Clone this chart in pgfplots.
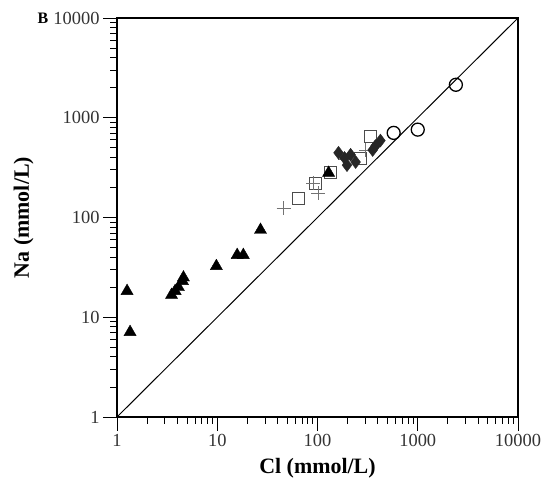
\documentclass[border=0pt]{standalone}
\usepackage{fontspec}
\setmainfont{Liberation Serif}
\usepackage{pgfplots}
\pgfplotsset{compat=1.18}
\begin{document}
\begin{tikzpicture}[x=1bp,y=1bp]
\path (0,0) rectangle (547,490);
\node[font=\fontsize{16}{19}\selectfont\bfseries] at (43,472) {B};
\begin{axis}[
  at={(117bp,73bp)}, anchor=south west,
  scale only axis, width=401bp, height=399bp,
  xmode=log, ymode=log,
  xmin=1, xmax=10000, ymin=1, ymax=10000,
  log basis x=10, log basis y=10,
  xtick={1,10,100,1000,10000}, ytick={1,10,100,1000,10000},
  xticklabels={1,10,100,1000,10000}, yticklabels={1,10,100,1000,10000},
  minor xtick={2,3,4,5,6,7,8,9,20,30,40,50,60,70,80,90,200,300,400,500,600,700,800,900,2000,3000,4000,5000,6000,7000,8000,9000},
  minor ytick={2,3,4,5,6,7,8,9,20,30,40,50,60,70,80,90,200,300,400,500,600,700,800,900,2000,3000,4000,5000,6000,7000,8000,9000},
  /pgf/number format/assume math mode=true,
  tick label style={font=\fontsize{18.5}{22}\selectfont, text=black!80},
  xtick pos=bottom, ytick pos=left,
  tick align=outside,
  major tick length=14bp, minor tick length=7bp,
  every tick/.style={black, line width=0.9pt},
  axis line style={line width=1.1pt},
  xlabel={Cl (mmol/L)}, ylabel={Na (mmol/L)},
  label style={font=\fontsize{22}{26}\selectfont\bfseries},
  xlabel style={at={(axis description cs:0.5,0)}, anchor=north, yshift=-38bp},
  ylabel style={at={(axis description cs:0,0.5)}, anchor=south, yshift=80bp},
  clip=false,
]
\addplot[black, line width=1pt, mark=none] coordinates {(1,1) (10000,10000)};
% open squares
\addplot[only marks, mark=square, mark size=6bp, black!70, line width=0.8pt] coordinates {
(65,157) (95,222) (135,285) (270,390) (339,645)};
% crosses
\addplot[only marks, mark=+, mark size=7bp, black!55, line width=0.8pt] coordinates {
(46,124) (102,176) (91,222) (190,380) (302,475)};
% filled diamonds
\addplot[only marks, mark=diamond*, mark size=6.5bp, black!85] coordinates {
(162,445) (186,395) (214,425) (240,360) (197,335) (378,520) (424,590) (355,475)};
% filled triangles
\addplot[only marks, mark=triangle*, mark size=7bp, black] coordinates {
(1.26,18.3) (1.35,7.1) (3.5,16.7) (3.8,18.3) (4.1,20) (4.5,23) (4.6,25)
(9.8,32.5) (15.8,42) (18.2,42) (27,75) (129,280)};
% open circles
\addplot[only marks, mark=o, mark size=6.5bp, black, line width=1.3pt] coordinates {
(575,705) (1000,760) (2400,2140)};
\end{axis}
\end{tikzpicture}
\end{document}
